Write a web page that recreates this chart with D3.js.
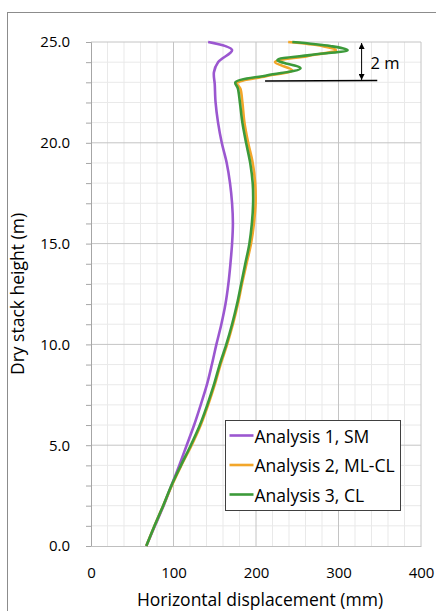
<!DOCTYPE html>
<html>
<head>
<meta charset="utf-8">
<script src="https://cdn.jsdelivr.net/npm/d3@7"></script>
<style>
  body { margin: 0; background: #fff; }
  text { font-family: "Open Sans", sans-serif; fill: #000; }
</style>
</head>
<body>
<div class="chart"></div>
<script>
// series: height (m) vs horizontal displacement (mm)
let smHeight = [0, 1, 2, 3, 4, 5, 6, 7, 8, 9, 10, 11, 12, 13, 14, 15, 16, 17, 18, 19, 20, 21, 22, 22.9, 23.5, 24.0, 24.6, 25.0];
let smDisp = [67, 77.5, 88, 97.5, 107, 116, 125, 133, 140.5, 146.5, 152, 158, 163, 166.5, 169, 171, 172, 171, 168.5, 164.5, 158.5, 154, 151, 150, 149, 154, 171, 142];

let mlHeight = [0, 1, 2, 3, 4, 5, 6, 7, 8, 9, 10, 11, 12, 13, 14, 15, 16, 17, 18, 19, 20, 21, 22, 22.7, 22.95, 23.3, 23.6, 24.0, 24.3, 24.6, 24.8, 25.0];
let mlDisp = [67, 77, 87.5, 98, 109.5, 122, 133, 142, 150, 157, 165, 172, 178, 183, 188.5, 194, 197.5, 199.5, 199, 196, 190.5, 186, 183.5, 181, 177, 212, 244, 223, 262, 297, 280, 239];

let clHeight = [0, 1, 2, 3, 4, 5, 6, 7, 8, 9, 10, 11, 12, 13, 14, 15, 16, 17, 18, 19, 20, 21, 22, 22.7, 23.0, 23.35, 23.7, 24.1, 24.35, 24.6, 24.8, 25.0];
let clDisp = [67, 77, 87.5, 97.5, 109, 121, 132, 141, 149, 156, 164, 171, 177, 182, 187, 192, 195, 196.5, 196, 193, 188, 183.5, 180.5, 178, 175, 214, 254, 226, 265, 311, 290, 244];

let seriesNames = ["Analysis 1, SM", "Analysis 2, ML-CL", "Analysis 3, CL"];
let seriesColors = ["#9b57d0", "#f2a62a", "#3c9a3a"];

let xTicks = [0, 100, 200, 300, 400];
let yTicks = [0, 5, 10, 15, 20, 25];

// annotation: 2 m band at the top of the stack
let bandTop = 25.0;
let bandBottom = 23.07;
let bandArrowX = 328;
let bandLineX = [211, 347];
let bandLabel = "2 m";

let width = 436;
let height = 611;
let margin = { top: 42, left: 91, right: 15, bottom: 65 };

let svg = d3.select(".chart")
  .append("svg")
  .attr("width", width)
  .attr("height", height);

// outer frame
svg.append("rect")
  .attr("x", 7.5)
  .attr("y", 12.5)
  .attr("width", 440)
  .attr("height", 620)
  .attr("fill", "none")
  .attr("stroke", "#8c8c8c");

let x = d3.scaleLinear().domain([0, 400]).range([margin.left, width - margin.right]);
let y = d3.scaleLinear().domain([0, 25]).range([height - margin.bottom, margin.top]);

// minor grid
svg.append("g")
  .selectAll("line")
  .data(d3.range(0, 401, 20).filter(d => d % 100 !== 0))
  .enter()
  .append("line")
  .attr("x1", d => x(d)).attr("x2", d => x(d))
  .attr("y1", y(0)).attr("y2", y(25))
  .attr("stroke", "#e9e9e9");

svg.append("g")
  .selectAll("line")
  .data(d3.range(0, 26, 1).filter(d => d % 5 !== 0))
  .enter()
  .append("line")
  .attr("x1", x(0)).attr("x2", x(400))
  .attr("y1", d => y(d)).attr("y2", d => y(d))
  .attr("stroke", "#e9e9e9");

// major grid
svg.append("g")
  .selectAll("line")
  .data(xTicks.slice(1))
  .enter()
  .append("line")
  .attr("x1", d => x(d)).attr("x2", d => x(d))
  .attr("y1", y(0)).attr("y2", y(25))
  .attr("stroke", "#c4c4c4");

svg.append("g")
  .selectAll("line")
  .data(yTicks.slice(1))
  .enter()
  .append("line")
  .attr("x1", x(0)).attr("x2", x(400))
  .attr("y1", d => y(d)).attr("y2", d => y(d))
  .attr("stroke", "#c4c4c4");

// axes
let yAxis = svg.append("g")
  .attr("transform", "translate(" + x(0) + ",0)")
  .call(d3.axisLeft(y)
    .tickValues(d3.range(0, 26, 1))
    .tickSize(5)
    .tickPadding(16)
    .tickFormat(d => d % 5 === 0 ? d.toFixed(1) : ""));
yAxis.select(".domain").attr("stroke", "#a6a6a6");
yAxis.selectAll(".tick line").attr("stroke", "#a6a6a6");
yAxis.selectAll("text")
  .style("font-family", "'Open Sans', sans-serif")
  .style("font-size", "15px")
  .attr("fill", "#000");

let xAxis = svg.append("g")
  .attr("transform", "translate(0," + y(0) + ")")
  .call(d3.axisBottom(x)
    .tickValues(xTicks)
    .tickSize(0)
    .tickPadding(21));
xAxis.select(".domain").attr("stroke", "#bfbfbf");
xAxis.selectAll("text")
  .style("font-family", "'Open Sans', sans-serif")
  .style("font-size", "15px")
  .attr("fill", "#000");

// axis titles
svg.append("text")
  .attr("x", (x(0) + x(400)) / 2 + 4)
  .attr("y", 606)
  .attr("text-anchor", "middle")
  .style("font-size", "17.5px")
  .text("Horizontal displacement (mm)");

svg.append("text")
  .attr("transform", "translate(24," + ((y(0) + y(25)) / 2) + ") rotate(-90)")
  .attr("text-anchor", "middle")
  .style("font-size", "17.5px")
  .text("Dry stack height (m)");

// curves
let line = d3.line()
  .x(d => x(d[1]))
  .y(d => y(d[0]))
  .curve(d3.curveCatmullRom.alpha(0.5));

let series = [
  d3.zip(smHeight, smDisp),
  d3.zip(mlHeight, mlDisp),
  d3.zip(clHeight, clDisp)
];

svg.append("g")
  .selectAll("path")
  .data(series)
  .enter()
  .append("path")
  .attr("d", line)
  .attr("fill", "none")
  .attr("stroke", (d, i) => seriesColors[i])
  .attr("stroke-width", 2.6)
  .attr("stroke-linejoin", "round");

// 2 m annotation
let defs = svg.append("defs");
defs.append("marker")
  .attr("id", "arrow")
  .attr("viewBox", "0 0 10 10")
  .attr("refX", 10)
  .attr("refY", 5)
  .attr("markerWidth", 6)
  .attr("markerHeight", 6)
  .attr("orient", "auto-start-reverse")
  .append("path")
  .attr("d", "M0,0 L10,5 L0,10 Z")
  .attr("fill", "#000");

svg.append("line")
  .attr("x1", x(bandArrowX)).attr("x2", x(bandArrowX))
  .attr("y1", y(bandTop) + 1).attr("y2", y(bandBottom) - 1)
  .attr("stroke", "#000")
  .attr("stroke-width", 1)
  .attr("marker-start", "url(#arrow)")
  .attr("marker-end", "url(#arrow)");

svg.append("line")
  .attr("x1", x(bandLineX[0])).attr("x2", x(bandLineX[1]))
  .attr("y1", y(bandBottom)).attr("y2", y(bandBottom) - 0.5)
  .attr("stroke", "#000")
  .attr("stroke-width", 1.5);

svg.append("text")
  .attr("x", x(bandArrowX) + 9)
  .attr("y", (y(bandTop) + y(bandBottom)) / 2 + 1)
  .attr("dominant-baseline", "central")
  .style("font-size", "16.5px")
  .text(bandLabel);

// legend
let legend = svg.append("g")
  .attr("transform", "translate(225.5,420.5)");

legend.append("rect")
  .attr("width", 175)
  .attr("height", 90)
  .attr("fill", "#fff")
  .attr("stroke", "#404040");

let rows = legend.selectAll(".row")
  .data(seriesNames)
  .enter()
  .append("g")
  .attr("class", "row")
  .attr("transform", (d, i) => "translate(0," + (15 + i * 29.5) + ")");

rows.append("line")
  .attr("x1", 4).attr("x2", 28)
  .attr("stroke", (d, i) => seriesColors[i])
  .attr("stroke-width", 2.6);

rows.append("text")
  .attr("x", 29)
  .attr("dominant-baseline", "central")
  .style("font-size", "17.5px")
  .text(d => d);
</script>
</body>
</html>
